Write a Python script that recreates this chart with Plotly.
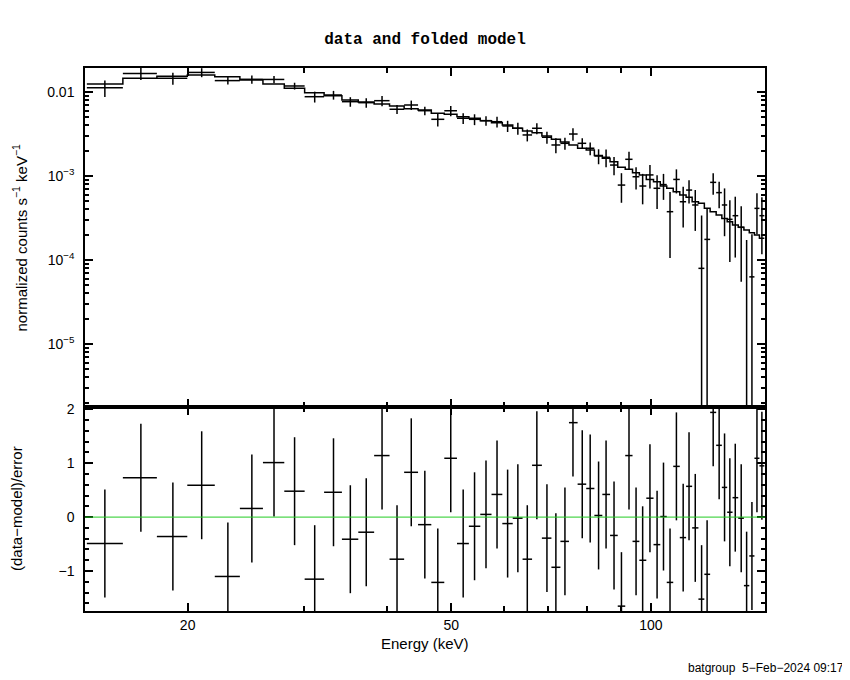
"""
Spectre BAT : donnees et modele replie, avec les residus en dessous.
"""

import numpy as np
from plotly.graph_objects import Scatter, Figure

# centres des canaux (keV)
energy = [15.0, 17.0, 19.0, 21.0, 23.0, 25.0, 27.0, 29.0,
          31.1, 33.2, 35.2, 37.2, 39.3, 41.4, 43.5, 45.6,
          47.7, 49.9, 52.1, 54.2, 56.4, 58.6, 60.8, 63.0,
          65.1, 67.3, 69.7, 71.9, 74.2, 76.3, 78.8, 81.0,
          83.4, 85.6, 88.0, 90.3, 92.7, 95.0, 97.2, 99.7,
          102.2, 104.5, 106.9, 109.3, 111.9, 114.2, 116.7, 119.3,
          121.6, 124.2, 126.8, 129.2, 131.6, 134.1, 136.9, 139.5,
          142.1, 144.6, 147.1]

# taux normalises (counts s-1 keV-1)
rate = [0.0112, 0.0166, 0.01456, 0.0171, 0.01366, 0.01416, 0.0141, 0.01179,
        0.00879, 0.00921, 0.00767, 0.00746, 0.00788, 0.00623, 0.0070, 0.00599,
        0.00473, 0.00598, 0.00487, 0.00473, 0.00456, 0.00443, 0.00394, 0.0037,
        0.00308, 0.0037, 0.00289, 0.00234, 0.00245, 0.00316, 0.00245, 0.00214,
        0.00173, 0.00167, 0.00135, 0.00078, 0.00158, 0.00098, 0.00076, 0.00103,
        0.000714, 0.00079, 0.000376, 0.00091, 0.000494, 0.00068, 0.000452, 0.0000796,
        0.000176, 0.00084, 0.000634, 0.000452, 0.000305, 0.000337, 0.000245, -0.000031,
        0.000063, 0.000412, 0.000337]

rate_err = [0.0025, 0.0027, 0.0024, 0.0021, 0.0014, 0.0016, 0.0014, 0.0011,
            0.0013, 0.0011, 0.0010, 0.00095, 0.0011, 0.00077, 0.0009, 0.0007,
            0.00084, 0.00083, 0.0007, 0.0007, 0.0006, 0.00065, 0.0006, 0.0006,
            0.0005, 0.00055, 0.00047, 0.00047, 0.0004, 0.00054, 0.00036, 0.00037,
            0.00035, 0.0004, 0.00033, 0.0003, 0.00037, 0.00029, 0.0003, 0.00032,
            0.00031, 0.00027, 0.00027, 0.00029, 0.00025, 0.00021, 0.00023, 0.00026,
            0.00023, 0.00024, 0.00022, 0.00026, 0.00021, 0.00023, 0.00019, 0.000204,
            0.00014, 0.00021, 0.00022]

# modele replie
model = [0.01245, 0.01456, 0.01539, 0.0159, 0.0152, 0.0139, 0.01245, 0.01107,
         0.00981, 0.00904, 0.00803, 0.0076, 0.0072, 0.00681, 0.00632, 0.0061,
         0.00557, 0.00543, 0.00508, 0.00487, 0.00455, 0.00431, 0.00405, 0.0037,
         0.00343, 0.00328, 0.00299, 0.00274, 0.00254, 0.00234, 0.00214, 0.00204,
         0.00175, 0.00163, 0.00148, 0.00127, 0.0012, 0.00109, 0.00103, 0.00091,
         0.000855, 0.00076, 0.000714, 0.00065, 0.000594, 0.000557, 0.000494, 0.000473,
         0.000412, 0.000376, 0.000344, 0.000313, 0.000286, 0.000261, 0.000245, 0.000228,
         0.000211, 0.000199, 0.000181]

# (data-model)/error
resid = [-0.49, 0.73, -0.36, 0.59, -1.10, 0.16, 1.01, 0.48,
         -1.15, 0.46, -0.41, -0.28, 1.14, -0.78, 0.83, -0.14,
         -1.21, 1.09, -0.49, -0.17, 0.05, 0.42, -0.12, -0.02,
         -0.78, 0.96, -0.39, -0.93, -0.45, 1.75, 0.61, 0.53,
         0.03, 0.42, -0.34, -1.65, 1.14, -0.45, -0.80, 0.35,
         -0.51, 0.01, -1.21, 0.94, -0.38, 0.57, -0.20, -1.52,
         -1.06, 1.94, 1.33, 0.55, 0.09, 0.36, -0.02, -1.27,
         -0.72, 1.09, 0.95]

top_ticks = [1e-5, 1e-4, 1e-3, 1e-2]
top_labels = ["10<sup>\u22125</sup>", "10<sup>\u22124</sup>", "10<sup>\u22123</sup>", "0.01"]
x_ticks = [20, 50, 100]
x_minor = [30, 40, 60, 70, 80, 90]
res_ticks = [-1, 0, 1, 2]
res_labels = ["\u22121", "0", "1", "2"]

FONT = "Liberation Sans"
# la page a une marge de 8 px : on decale tout
W, H = 842, 672
L, T, PW, PH = 77, 60, 680, 543


def bin_edges(c):
    """bords des canaux a partir des centres (moyenne geometrique)"""
    c = np.array(c)
    mid = np.sqrt(c[:-1] * c[1:])
    lo = np.concatenate([[c[0] ** 2 / mid[0]], mid])
    hi = np.concatenate([mid, [c[-1] ** 2 / mid[-1]]])
    return lo, hi


def crosses(lo, hi, x, y, err, floor=None):
    """segments des croix d'erreur (None entre chaque segment)"""
    xs, ys = [], []
    for a, b, xc, yc, e in zip(lo, hi, x, y, err):
        y0 = yc - e
        if floor is not None and y0 <= 0:
            y0 = floor
        xs += [xc, xc, None]
        ys += [y0, yc + e, None]
        if floor is None or yc > 0:
            xs += [a, b, None]
            ys += [yc, yc, None]
    return xs, ys


def main():
    lo, hi = bin_edges(energy)

    fig = Figure()

    # donnees
    xs, ys = crosses(lo, hi, energy, rate, rate_err, floor=1e-8)
    fig.add_trace(Scatter(x=xs, y=ys, mode="lines", line=dict(color="black", width=1.5),
                          xaxis="x", yaxis="y", showlegend=False, hoverinfo="skip"))
    # modele en escalier
    edges = list(lo) + [hi[-1]]
    fig.add_trace(Scatter(x=edges, y=model + [model[-1]], mode="lines", line_shape="hv",
                          line=dict(color="black", width=1.5),
                          xaxis="x", yaxis="y", showlegend=False))

    # residus
    xs, ys = crosses(lo, hi, energy, resid, [1.0] * len(resid))
    fig.add_trace(Scatter(x=xs, y=ys, mode="lines", line=dict(color="black", width=1.5),
                          xaxis="x2", yaxis="y2", showlegend=False, hoverinfo="skip"))

    split = 204 / PH
    xrange = [np.log10(14.0), np.log10(148.7)]
    axis_common = dict(showline=True, linecolor="black", linewidth=1.5, mirror="allticks",
                       ticks="inside", tickcolor="black", tickwidth=1.5, showgrid=False,
                       zeroline=False, tickfont=dict(family=FONT, size=14, color="black"))

    fig.update_layout(
        width=W, height=H,
        margin=dict(l=L, r=W - L - PW, t=T, b=H - T - PH),
        paper_bgcolor="white", plot_bgcolor="white",
        font=dict(family=FONT, size=14, color="black"),
        xaxis=dict(type="log", range=xrange, domain=[0, 1], anchor="y",
                   tickvals=x_ticks, ticklen=8, showticklabels=False,
                   minor=dict(tickvals=x_minor, ticklen=5, ticks="inside", tickcolor="black"),
                   **axis_common),
        yaxis=dict(type="log", range=[np.log10(1.78e-6), np.log10(0.0193)],
                   domain=[split, 1], anchor="x",
                   tickvals=top_ticks, ticktext=top_labels, ticklen=8, ticklabelstandoff=6,
                   minor=dict(tickvals=[k * 10.0 ** p for p in range(-6, -1) for k in range(2, 10)],
                              ticklen=4, ticks="inside", tickcolor="black"),
                   **axis_common),
        xaxis2=dict(type="log", range=xrange, domain=[0, 1], anchor="y2", matches="x",
                    tickvals=x_ticks, ticktext=["20", "50", "100"], ticklen=8,
                    minor=dict(tickvals=x_minor, ticklen=5, ticks="inside", tickcolor="black"),
                    **axis_common),
        yaxis2=dict(range=[-1.74, 2.04], domain=[0, split], anchor="x2",
                    tickvals=res_ticks, ticktext=res_labels, ticklen=8, ticklabelstandoff=6,
                    minor=dict(dtick=0.2, tick0=0, ticklen=4, ticks="inside", tickcolor="black"),
                    **axis_common),
        title=dict(text="<b>data and folded model</b>", x=(L + PW / 2) / W, xanchor="center",
                   y=1 - 30 / H, yanchor="middle",
                   font=dict(family="Liberation Mono", size=16, color="black")),
    )

    # ligne zero des residus
    fig.add_shape(type="line", xref="x2 domain", x0=0, x1=1, yref="y2", y0=0, y1=0,
                  line=dict(color="#22cc22", width=1))

    fig.add_annotation(text="normalized counts s<sup>\u22121</sup> keV<sup>\u22121</sup>",
                       xref="paper", yref="paper", x=(20 - 85) / PW, y=split + (1 - split) / 2,
                       textangle=-90, showarrow=False, xanchor="center", yanchor="middle",
                       font=dict(family=FONT, size=15))
    fig.add_annotation(text="(data\u2212model)/error",
                       xref="paper", yref="paper", x=(16 - 85) / PW, y=split / 2,
                       textangle=-90, showarrow=False, xanchor="center", yanchor="middle",
                       font=dict(family=FONT, size=15))
    fig.add_annotation(text="Energy (keV)", xref="paper", yref="paper",
                       x=0.5, y=(611 - 643) / PH, showarrow=False,
                       xanchor="center", yanchor="middle", font=dict(family=FONT, size=15))
    fig.add_annotation(text="batgroup  5\u2212Feb\u22122024 09:17", xref="paper", yref="paper",
                       x=(846 - 85) / PW, y=(611 - 668) / PH, showarrow=False,
                       xanchor="right", yanchor="middle", font=dict(family=FONT, size=12))

    fig.write_html("out.html")


if __name__ == "__main__":
    main()
